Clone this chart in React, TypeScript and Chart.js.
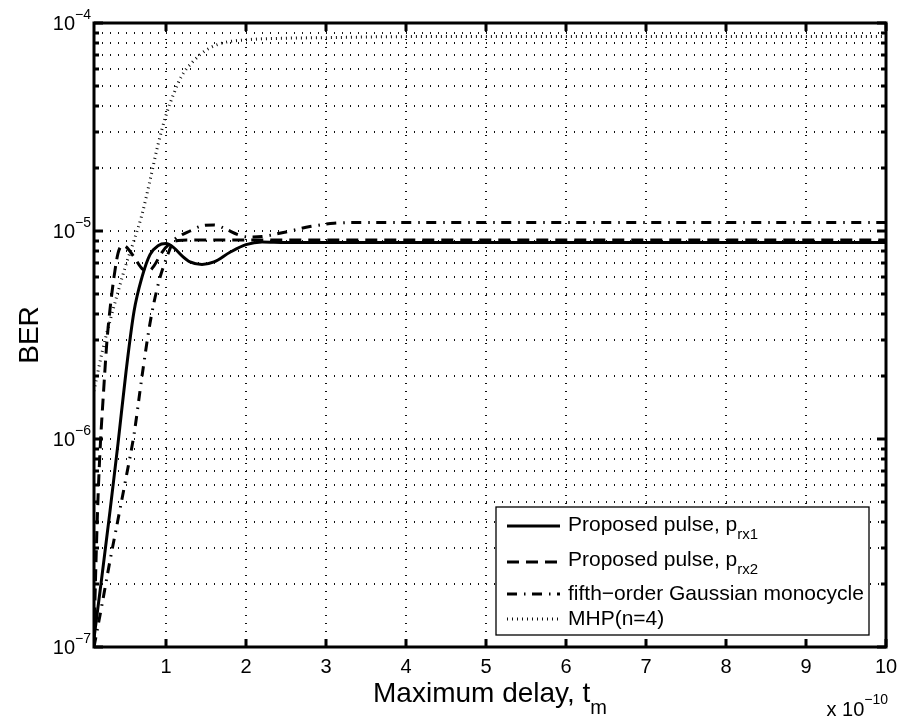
import React, { useEffect, useRef } from 'react';
import { Chart, registerables } from 'chart.js';

Chart.register(...registerables);

// ---- axis definitions (x in units of 1e-10 s) ----
const X_MIN = 0.1;
const X_MAX = 10;
const X_TICKS = [1, 2, 3, 4, 5, 6, 7, 8, 9, 10];
const Y_MIN = 1e-7;
const Y_MAX = 1e-4;
const Y_DECADES = [1e-7, 1e-6, 1e-5, 1e-4];
const Y_EXPONENTS = ['\u22127', '\u22126', '\u22125', '\u22124'];
const X_EXPONENT = '\u221210';

// ---- series: Proposed pulse, p_rx1 (solid) ----
const rx1X = [0.1, 0.2, 0.3, 0.4, 0.5, 0.6, 0.7, 0.8, 0.9, 1.0, 1.1, 1.2, 1.3, 1.45, 1.6, 1.8, 2.0, 2.2, 2.5, 3, 4, 5, 6, 7, 8, 9, 10];
const rx1Y = [1.1e-7, 2.2e-7, 4.5e-7, 9.5e-7, 2.1e-6, 4.1e-6, 6.0e-6, 7.7e-6, 8.5e-6, 8.7e-6, 8.3e-6, 7.6e-6, 7.1e-6, 6.9e-6, 7.1e-6, 7.9e-6, 8.6e-6, 8.85e-6, 8.8e-6, 8.8e-6, 8.8e-6, 8.8e-6, 8.8e-6, 8.8e-6, 8.8e-6, 8.8e-6, 8.8e-6];

// ---- series: Proposed pulse, p_rx2 (dashed) ----
const rx2X = [0.1, 0.12, 0.14, 0.16, 0.18, 0.22, 0.26, 0.3, 0.35, 0.4, 0.45, 0.5, 0.6, 0.7, 0.78, 0.85, 0.95, 1.05, 1.15, 1.3, 2, 3, 4, 5, 6, 7, 8, 9, 10];
const rx2Y = [1.1e-7, 2.2e-7, 4.0e-7, 6.5e-7, 9.5e-7, 1.7e-6, 2.9e-6, 4.2e-6, 6.0e-6, 7.8e-6, 8.5e-6, 8.4e-6, 7.5e-6, 6.6e-6, 6.4e-6, 6.8e-6, 7.9e-6, 8.7e-6, 9.0e-6, 9.05e-6, 9.05e-6, 9.05e-6, 9.05e-6, 9.05e-6, 9.05e-6, 9.05e-6, 9.05e-6, 9.05e-6, 9.05e-6];

// ---- series: fifth-order Gaussian monocycle (dash-dot) ----
const gaussX = [0.1, 0.2, 0.3, 0.4, 0.5, 0.6, 0.7, 0.8, 0.9, 1.0, 1.1, 1.2, 1.3, 1.45, 1.6, 1.75, 1.9, 2.05, 2.2, 2.5, 2.8, 3.1, 3.5, 4, 5, 6, 7, 8, 9, 10];
const gaussY = [1.0e-7, 1.6e-7, 2.6e-7, 4.1e-7, 6.5e-7, 1.05e-6, 2.0e-6, 3.6e-6, 5.5e-6, 7.3e-6, 9.0e-6, 9.6e-6, 1.0e-5, 1.06e-5, 1.07e-5, 1.02e-5, 9.6e-6, 9.35e-6, 9.4e-6, 9.9e-6, 1.05e-5, 1.09e-5, 1.1e-5, 1.1e-5, 1.1e-5, 1.1e-5, 1.1e-5, 1.1e-5, 1.1e-5, 1.1e-5];

// ---- series: MHP(n=4) (dotted) ----
const mhpX = [0.1, 0.2, 0.3, 0.4, 0.5, 0.6, 0.7, 0.8, 0.9, 1.0, 1.1, 1.2, 1.35, 1.5, 1.7, 2.0, 2.5, 3, 4, 5, 6, 7, 8, 9, 10];
const mhpY = [1.7e-6, 2.6e-6, 3.7e-6, 5.1e-6, 6.9e-6, 9.0e-6, 1.2e-5, 1.75e-5, 2.6e-5, 3.6e-5, 4.6e-5, 5.6e-5, 6.6e-5, 7.4e-5, 8.0e-5, 8.3e-5, 8.45e-5, 8.5e-5, 8.6e-5, 8.6e-5, 8.6e-5, 8.6e-5, 8.6e-5, 8.6e-5, 8.6e-5];

const LEGEND_MAIN = ['Proposed pulse, p', 'Proposed pulse, p', 'fifth\u2212order Gaussian monocycle', 'MHP(n=4)'];
const LEGEND_SUB = ['rx1', 'rx2', '', ''];
const X_TITLE = 'Maximum delay, t';
const X_TITLE_SUB = 'm';
const Y_TITLE = 'BER';

const FAMILY = '"Liberation Sans", Arial, Helvetica, sans-serif';
const font = (s: number) => `${s}px ${FAMILY}`;

const DASHES: number[][] = [[], [12, 7], [10, 7, 1.5, 6.5], [1, 4]];
const WIDTHS = [3, 3, 3, 3];
const COLORS = ['#000', '#000', '#000', '#111'];
const GRID_COLOR = '#111';

type Part = { t: string; s: number; dy?: number };

function richWidth(ctx: CanvasRenderingContext2D, parts: Part[]) {
  let w = 0;
  for (const p of parts) {
    ctx.font = font(p.s);
    w += ctx.measureText(p.t).width;
  }
  return w;
}

function drawRich(ctx: CanvasRenderingContext2D, parts: Part[], x: number, y: number) {
  let cx = x;
  ctx.textAlign = 'left';
  ctx.textBaseline = 'alphabetic';
  for (const p of parts) {
    ctx.font = font(p.s);
    ctx.fillText(p.t, cx, y + (p.dy || 0));
    cx += ctx.measureText(p.t).width;
  }
}

function yGridValues() {
  const vals: number[] = [];
  for (let d = -7; d <= -5; d++) {
    for (let k = 1; k <= 9; k++) {
      const v = k * Math.pow(10, d);
      if (d === -7 && k === 1) continue;
      vals.push(v);
    }
  }
  return vals;
}

const decorPlugin = {
  id: 'decor',
  afterDatasetsDraw(chart: any) {
    const { ctx, chartArea: a, scales } = chart;
    const xs = scales.x;
    const ys = scales.y;
    ctx.save();
    ctx.fillStyle = '#000';
    ctx.strokeStyle = '#000';

    // legend box
    const bw = 373, bh = 128;
    const bl = a.right - 390, bt = a.bottom - 140;
    ctx.fillStyle = '#fff';
    ctx.fillRect(bl, bt, bw, bh);
    ctx.lineWidth = 1.3;
    ctx.setLineDash([]);
    ctx.strokeRect(bl, bt, bw, bh);
    const lineYs = [19, 55, 87, 112];
    const textYs = [24, 59, 93, 118];
    for (let i = 0; i < 4; i++) {
      ctx.save();
      ctx.strokeStyle = COLORS[i];
      ctx.lineWidth = WIDTHS[i];
      ctx.setLineDash(DASHES[i]);
      ctx.beginPath();
      ctx.moveTo(bl + 11, bt + lineYs[i]);
      ctx.lineTo(bl + 64, bt + lineYs[i]);
      ctx.stroke();
      ctx.restore();
      ctx.fillStyle = '#000';
      const parts: Part[] = [{ t: LEGEND_MAIN[i], s: 21 }];
      if (LEGEND_SUB[i]) parts.push({ t: LEGEND_SUB[i], s: 15, dy: 8 });
      drawRich(ctx, parts, bl + 72, bt + textYs[i]);
    }

    // axes border
    ctx.setLineDash([]);
    ctx.lineWidth = 3;
    ctx.strokeStyle = '#000';
    ctx.strokeRect(a.left, a.top, a.right - a.left, a.bottom - a.top);

    // inward ticks
    ctx.lineWidth = 3;
    ctx.beginPath();
    for (const v of X_TICKS) {
      const px = Math.round(xs.getPixelForValue(v));
      ctx.moveTo(px, a.bottom);
      ctx.lineTo(px, a.bottom - 8);
      ctx.moveTo(px, a.top);
      ctx.lineTo(px, a.top + 8);
    }
    for (let d = -7; d <= -4; d++) {
      for (let k = 1; k <= 9; k++) {
        if (d === -4 && k > 1) break;
        const v = k * Math.pow(10, d);
        const py = Math.round(ys.getPixelForValue(v));
        const len = k === 1 ? 9 : 5;
        ctx.moveTo(a.left, py);
        ctx.lineTo(a.left + len, py);
        ctx.moveTo(a.right, py);
        ctx.lineTo(a.right - len, py);
      }
    }
    ctx.stroke();

    // x tick labels
    ctx.fillStyle = '#000';
    ctx.font = font(20);
    ctx.textAlign = 'center';
    ctx.textBaseline = 'alphabetic';
    for (const v of X_TICKS) {
      const px = xs.getPixelForValue(v);
      ctx.fillText(String(v), px, a.bottom + 26);
    }

    // y tick labels (10^n)
    Y_DECADES.forEach((v, i) => {
      const py = ys.getPixelForValue(v);
      ctx.font = font(14);
      const sw = ctx.measureText(Y_EXPONENTS[i]).width;
      ctx.font = font(20);
      const bw2 = ctx.measureText('10').width;
      const right = a.left - 3;
      drawRich(ctx, [{ t: '10', s: 20 }, { t: Y_EXPONENTS[i], s: 14, dy: -11 }], right - sw - bw2, py + 7);
    });

    // x title
    const tparts: Part[] = [{ t: X_TITLE, s: 28 }, { t: X_TITLE_SUB, s: 20, dy: 12 }];
    const tw = richWidth(ctx, tparts);
    drawRich(ctx, tparts, (a.left + a.right) / 2 - tw / 2, a.bottom + 55);

    // x exponent
    const eparts: Part[] = [{ t: 'x 10', s: 20 }, { t: X_EXPONENT, s: 14, dy: -12 }];
    const ew = richWidth(ctx, eparts);
    drawRich(ctx, eparts, a.right + 2 - ew, a.bottom + 69);

    // y title
    ctx.save();
    ctx.translate(a.left - 64, (a.top + a.bottom) / 2);
    ctx.rotate(-Math.PI / 2);
    ctx.font = font(28);
    ctx.textAlign = 'center';
    ctx.textBaseline = 'middle';
    ctx.fillText(Y_TITLE, 0, 0);
    ctx.restore();

    ctx.restore();
  },
};

function series(xs: number[], ys: number[]) {
  return xs.map((x, i) => ({ x, y: ys[i] }));
}

export default function App() {
  const ref = useRef<HTMLCanvasElement | null>(null);
  useEffect(() => {
    if (!ref.current) return;
    const gridY = yGridValues();
    const mk = (label: string, data: any[], i: number) => ({
      label,
      data,
      borderColor: COLORS[i],
      borderWidth: WIDTHS[i],
      borderDash: DASHES[i],
      pointRadius: 0,
      fill: false,
      cubicInterpolationMode: 'monotone' as const,
    });
    const chart = new Chart(ref.current, {
      type: 'line',
      data: {
        datasets: [
          mk('Proposed pulse, p_rx1', series(rx1X, rx1Y), 0),
          mk('Proposed pulse, p_rx2', series(rx2X, rx2Y), 1),
          mk('fifth-order Gaussian monocycle', series(gaussX, gaussY), 2),
          mk('MHP(n=4)', series(mhpX, mhpY), 3),
        ],
      },
      options: {
        responsive: false,
        animation: false,
        devicePixelRatio: 1,
        events: [],
        layout: { padding: { left: 94, right: 14, top: 23, bottom: 70 } },
        plugins: { legend: { display: false }, tooltip: { enabled: false }, title: { display: false } },
        scales: {
          x: {
            type: 'linear',
            min: X_MIN,
            max: X_MAX,
            afterBuildTicks: (s: any) => {
              s.ticks = X_TICKS.filter((v) => v < X_MAX).map((v) => ({ value: v }));
            },
            afterFit: (s: any) => {
              s.height = 0;
            },
            ticks: { display: false },
            grid: { color: GRID_COLOR, lineWidth: 2, drawTicks: false },
            border: { display: false, dash: [1, 7] },
          },
          y: {
            type: 'logarithmic',
            min: Y_MIN,
            max: Y_MAX,
            afterBuildTicks: (s: any) => {
              s.ticks = gridY.map((v) => ({ value: v }));
            },
            afterFit: (s: any) => {
              s.width = 0;
            },
            ticks: { display: false },
            grid: { color: GRID_COLOR, lineWidth: 2, drawTicks: false },
            border: { display: false, dash: [1, 7] },
          },
        },
      } as any,
      plugins: [decorPlugin],
    });
    return () => chart.destroy();
  }, []);
  return (
    <div style={{ position: 'absolute', left: 0, top: 0, width: 900, height: 717, background: '#fff' }}>
      <canvas ref={ref} width={900} height={717} style={{ width: 900, height: 717, display: 'block' }} />
    </div>
  );
}
